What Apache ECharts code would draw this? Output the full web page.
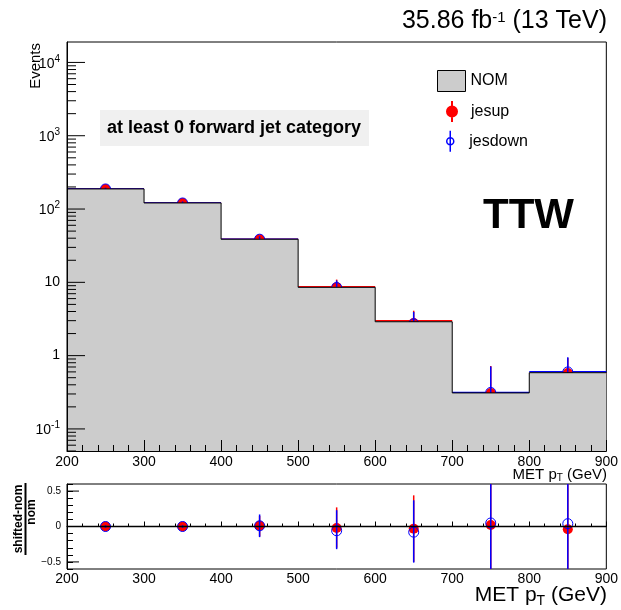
<!DOCTYPE html>
<html><head><meta charset="utf-8">
<script src="https://cdn.jsdelivr.net/npm/echarts@6/dist/echarts.min.js"></script>
<style>html,body{margin:0;padding:0;background:#fff}#c{width:621px;height:610px}</style>
</head><body><div id="c"></div>
<script>
// ---------------- data ----------------
const binEdges = [200, 300, 400, 500, 600, 700, 800, 900];
const binCenters = [250, 350, 450, 550, 650, 750, 850];
const nomValues = [188, 121, 38.7, 8.55, 2.9, 0.31, 0.585];
const jesupHist = [188, 121, 38.7, 8.7, 2.98, 0.31, 0.565];
const jesdownHist = [188, 121, 38.7, 8.4, 2.82, 0.315, 0.605];
const jesupPoints = [188, 121, 38.8, 8.6, 2.78, 0.31, 0.58];
const jesupLow = [180, 115, 35, 6.7, 1.7, 0.01, 0.27];
const jesupHigh = [196, 127, 42.5, 10.9, 4.1, 0.72, 0.93];
const jesdownPoints = [188, 121, 38.8, 8.5, 2.72, 0.315, 0.6];
const jesdownLow = [180, 115, 35, 6.6, 1.8, 0.01, 0.28];
const jesdownHigh = [196, 127, 42.5, 10.6, 3.95, 0.71, 0.95];
const ratioUp = [0, 0, 0.01, -0.02, -0.03, 0.02, -0.04];
const ratioUpLow = [-0.02, -0.02, -0.14, -0.3, -0.5, -1, -1];
const ratioUpHigh = [0.02, 0.02, 0.15, 0.27, 0.44, 1, 1];
const ratioDown = [0, 0, 0.01, -0.06, -0.08, 0.05, 0.04];
const ratioDownLow = [-0.02, -0.02, -0.15, -0.32, -0.51, -1, -1];
const ratioDownHigh = [0.02, 0.02, 0.17, 0.23, 0.37, 1, 1];
const xTickValues = [200, 300, 400, 500, 600, 700, 800, 900];
const xTickLabels = ['200', '300', '400', '500', '600', '700', '800', '900'];
const yTickValues = [0.1, 1, 10, 100, 1000, 10000];
const yTickLabels = ['{b|10}{s|-1}', '1', '10', '{b|10}{s|2}', '{b|10}{s|3}', '{b|10}{s|4}'];
const ratioTickValues = [-0.5, 0, 0.5];
const ratioTickLabels = ['\u22120.5', '0', '0.5'];

// ---------------- layout / style ----------------
const FONT = '"Liberation Sans", Arial, Helvetica, sans-serif';
const yMin = 0.05, yMax = 19000;
const GL = 67, GW = 540;

const chart = echarts.init(document.getElementById('c'));

function pts(ys, lo, hi) { return binCenters.map((x, i) => [x, ys[i], lo[i], hi[i]]); }
function hist(vals) { return vals.map((v, i) => [binEdges[i], binEdges[i + 1], v]); }
const nomStep = binEdges.map((e, i) => [e, nomValues[Math.min(i, nomValues.length - 1)]]);

const logTicks = [];
for (let e = -2; e <= 4; e++) for (let k = 1; k <= 9; k++) {
  const v = k * Math.pow(10, e);
  if (v >= yMin && v <= yMax) logTicks.push([200, v, k === 1 ? 1 : 0]);
}
const ratioMajor = ratioTickValues.map(v => [200, v]);

function histItem(color) {
  return function (params, api) {
    const a = api.coord([api.value(0), api.value(2)]);
    const b = api.coord([api.value(1), api.value(2)]);
    return { type: 'line', shape: { x1: a[0], y1: a[1], x2: b[0], y2: b[1] }, style: { stroke: color, lineWidth: 1.5 } };
  };
}
function pointItem(color, filled) {
  return function (params, api) {
    const x = api.value(0);
    const c = api.coord([x, api.value(1)]);
    const lo = api.coord([x, api.value(2)]);
    const hi = api.coord([x, api.value(3)]);
    return { type: 'group', children: [
      { type: 'line', shape: { x1: lo[0], y1: lo[1], x2: hi[0], y2: hi[1] }, style: { stroke: color, lineWidth: 1.5 } },
      { type: 'circle', shape: { cx: c[0], cy: c[1], r: filled ? 5 : 5 },
        style: filled ? { fill: color } : { fill: 'none', stroke: color, lineWidth: 1 } }
    ] };
  };
}
function lookup(vals, labels, v, log) {
  for (let i = 0; i < vals.length; i++) {
    const d = log ? Math.abs(Math.log10(v) - Math.log10(vals[i])) : Math.abs(v - vals[i]);
    if (d < 1e-6) return labels[i];
  }
  return '';
}

const xAxisCommon = (grid, tickLen, minorLen, margin) => ({
  type: 'value', gridIndex: grid, min: 200, max: 900, interval: 100, z: 5,
  axisLine: { show: true, lineStyle: { color: '#000', width: 1 } },
  axisTick: { show: true, inside: true, length: tickLen, lineStyle: { color: '#000', width: 1 } },
  minorTick: { show: true, splitNumber: 5, length: minorLen, lineStyle: { color: '#000', width: 1 } },
  splitLine: { show: false }, minorSplitLine: { show: false },
  axisLabel: { margin: margin, color: '#000', fontSize: 14, fontFamily: FONT,
    formatter: v => lookup(xTickValues, xTickLabels, v, false) }
});

const option = {
  animation: false,
  backgroundColor: '#fff',
  grid: [
    { left: GL, width: GW, top: 42, height: 409, show: true, borderColor: '#000', borderWidth: 1, backgroundColor: 'rgba(0,0,0,0)' },
    { left: GL, width: GW, top: 484, height: 85, show: true, borderColor: '#000', borderWidth: 1, backgroundColor: 'rgba(0,0,0,0)' }
  ],
  xAxis: [xAxisCommon(0, 11, 6, 4), xAxisCommon(1, 5, 3, 3)],
  yAxis: [
    { type: 'log', logBase: 10, gridIndex: 0, min: yMin, max: yMax, z: 5,
      axisLine: { show: true, lineStyle: { color: '#000', width: 1 } },
      axisTick: { show: false }, splitLine: { show: false },
      axisLabel: { margin: 7, color: '#000', fontSize: 14, fontFamily: FONT,
        formatter: v => lookup(yTickValues, yTickLabels, v, true),
        rich: {
          b: { fontSize: 14, fontFamily: FONT, color: '#000', verticalAlign: 'bottom' },
          s: { fontSize: 10, fontFamily: FONT, color: '#000', verticalAlign: 'bottom', padding: [0, 0, 7, 0] }
        } } },
    { type: 'value', gridIndex: 1, min: -0.6, max: 0.6, interval: 0.1, z: 5,
      axisLine: { show: true, lineStyle: { color: '#000', width: 1 } },
      axisTick: { show: true, inside: true, length: 6, lineStyle: { color: '#000', width: 1 } },
      splitLine: { show: false },
      axisLabel: { interval: 0, margin: 6, color: '#000', fontSize: 10, fontFamily: FONT,
        formatter: v => lookup(ratioTickValues, ratioTickLabels, v, false) } }
  ],
  legend: [
    { data: [{ name: 'NOM', icon: 'rect', itemStyle: { color: '#cccccc', borderColor: '#000', borderWidth: 1 } }],
      left: 437, top: 70, itemWidth: 28, itemHeight: 21, padding: 0, selectedMode: false,
      textStyle: { fontSize: 16, fontFamily: FONT, color: '#000' } },
    { data: [{ name: 'jesup', icon: 'path://M5 0L5 21M10 10.5A5 5 0 1 1 0 10.5A5 5 0 1 1 10 10.5Z',
        itemStyle: { color: '#ff0000', borderColor: '#ff0000', borderWidth: 2 } }],
      left: 446, top: 100, itemWidth: 10, itemHeight: 21, padding: 0, selectedMode: false,
      textStyle: { fontSize: 16, fontFamily: FONT, color: '#000', padding: [0, 0, 0, 9] } },
    { data: [{ name: 'jesdown', icon: 'path://M5 0L5 21M8.5 10.5A3.5 3.5 0 1 1 1.5 10.5A3.5 3.5 0 1 1 8.5 10.5Z',
        itemStyle: { color: 'rgba(0,0,0,0)', borderColor: '#0000ff', borderWidth: 1.5 } }],
      left: 446, top: 130, itemWidth: 10, itemHeight: 21, padding: 0, selectedMode: false,
      textStyle: { fontSize: 16, fontFamily: FONT, color: '#000', padding: [0, 0, 0, 9] } }
  ],
  series: [
    { name: 'NOM', type: 'line', xAxisIndex: 0, yAxisIndex: 0, step: 'end', data: nomStep,
      symbol: 'none', lineStyle: { color: '#000', width: 1 },
      itemStyle: { color: '#cccccc' },
      areaStyle: { color: '#cccccc', opacity: 1, origin: 'start' }, silent: true },
    { name: 'jesup hist', type: 'custom', xAxisIndex: 0, yAxisIndex: 0, data: hist(jesupHist),
      encode: { x: [0, 1], y: 2 }, renderItem: histItem('#ff0000'), clip: true, silent: true },
    { name: 'jesdown hist', type: 'custom', xAxisIndex: 0, yAxisIndex: 0, data: hist(jesdownHist),
      encode: { x: [0, 1], y: 2 }, renderItem: histItem('#0000ff'), clip: true, silent: true },
    { name: 'jesup', type: 'custom', xAxisIndex: 0, yAxisIndex: 0, data: pts(jesupPoints, jesupLow, jesupHigh),
      encode: { x: 0, y: 1 }, renderItem: pointItem('#ff0000', true), clip: true, silent: true, itemStyle: { color: '#ff0000' } },
    { name: 'jesdown', type: 'custom', xAxisIndex: 0, yAxisIndex: 0, data: pts(jesdownPoints, jesdownLow, jesdownHigh),
      encode: { x: 0, y: 1 }, renderItem: pointItem('#0000ff', false), clip: true, silent: true, itemStyle: { color: '#0000ff' } },
    { name: 'log ticks', type: 'custom', xAxisIndex: 0, yAxisIndex: 0, data: logTicks, z: 6, silent: true,
      encode: { x: 0, y: 1 },
      renderItem: function (params, api) {
        const p = api.coord([api.value(0), api.value(1)]);
        const len = api.value(2) ? 18 : 9;
        return { type: 'line', shape: { x1: p[0], y1: p[1], x2: p[0] + len, y2: p[1] }, style: { stroke: '#000', lineWidth: 1 } };
      } },
    { name: 'zero', type: 'line', xAxisIndex: 1, yAxisIndex: 1, data: [[200, 0], [900, 0]],
      symbol: 'none', lineStyle: { color: '#000', width: 1.5 }, silent: true },
    { name: 'jesup', type: 'custom', xAxisIndex: 1, yAxisIndex: 1, data: pts(ratioUp, ratioUpLow, ratioUpHigh),
      encode: { x: 0, y: 1 }, renderItem: pointItem('#ff0000', true), clip: true, silent: true },
    { name: 'jesdown', type: 'custom', xAxisIndex: 1, yAxisIndex: 1, data: pts(ratioDown, ratioDownLow, ratioDownHigh),
      encode: { x: 0, y: 1 }, renderItem: pointItem('#0000ff', false), clip: true, silent: true },
    { name: 'ratio ticks', type: 'custom', xAxisIndex: 1, yAxisIndex: 1, data: ratioMajor, z: 6, silent: true,
      encode: { x: 0, y: 1 },
      renderItem: function (params, api) {
        const p = api.coord([api.value(0), api.value(1)]);
        return { type: 'line', shape: { x1: p[0], y1: p[1], x2: p[0] + 12, y2: p[1] }, style: { stroke: '#000', lineWidth: 1 } };
      } }
  ],
  graphic: [
    { type: 'text', right: 14, top: 9, style: {
        text: '{a|35.86 fb}{s|-1}{a| (13 TeV)}', fill: '#000',
        rich: { a: { fontSize: 25, fontFamily: FONT, verticalAlign: 'bottom' },
                s: { fontSize: 15, fontFamily: FONT, verticalAlign: 'bottom', padding: [0, 0, 9, 0] } } } },
    { type: 'text', x: 36, y: 43, rotation: Math.PI / 2, style: {
        text: 'Events', fontSize: 15, fontFamily: FONT, fill: '#000', align: 'right', verticalAlign: 'middle' } },
    { type: 'rect', shape: { x: 100, y: 110, width: 269, height: 36 }, style: { fill: '#f0f0f0' } },
    { type: 'text', x: 107, y: 128, style: {
        text: 'at least 0 forward jet category', fontSize: 18, fontWeight: 'bold', fontFamily: FONT, fill: '#000', verticalAlign: 'middle' } },
    { type: 'text', x: 483, y: 216, style: {
        text: 'TTW', fontSize: 42, fontWeight: 'bold', fontFamily: FONT, fill: '#000', verticalAlign: 'middle' } },
    { type: 'text', right: 14, top: 467, style: {
        text: '{a|MET p}{t|T}{a| (GeV)}', fill: '#000',
        rich: { a: { fontSize: 15, fontFamily: FONT, verticalAlign: 'top' },
                t: { fontSize: 10, fontFamily: FONT, verticalAlign: 'top', padding: [6, 0, 0, 0] } } } },
    { type: 'text', right: 14, top: 585, style: {
        text: '{a|MET p}{t|T}{a| (GeV)}', fill: '#000',
        rich: { a: { fontSize: 21, fontFamily: FONT, verticalAlign: 'top' },
                t: { fontSize: 14, fontFamily: FONT, verticalAlign: 'top', padding: [9, 0, 0, 0] } } } },
    { type: 'group', x: 25.5, y: 519, rotation: Math.PI / 2, children: [
        { type: 'text', x: 0, y: -7, style: { text: 'shifted-nom', fontSize: 12, fontWeight: 'bold', fontFamily: FONT, fill: '#000', align: 'center', verticalAlign: 'middle' } },
        { type: 'line', shape: { x1: -36, y1: 0, x2: 36, y2: 0 }, style: { stroke: '#000', lineWidth: 2 } },
        { type: 'text', x: 7, y: 6.5, style: { text: 'nom', fontSize: 12, fontWeight: 'bold', fontFamily: FONT, fill: '#000', align: 'center', verticalAlign: 'middle' } }
    ] }
  ]
};
chart.setOption(option);
</script>
</body></html>
